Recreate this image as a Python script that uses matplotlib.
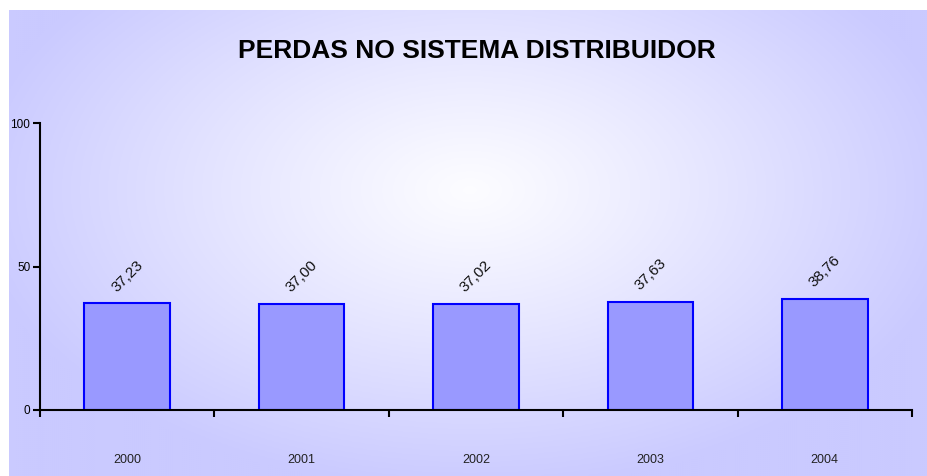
import numpy as np
import matplotlib.pyplot as plt

anos = ['2000', '2001', '2002', '2003', '2004']
perdas = [37.23, 37.00, 37.02, 37.63, 38.76]
rotulos = ['37,23', '37,00', '37,02', '37,63', '38,76']
y_ticks = [0, 50, 100]

plt.rcParams['font.family'] = ['Liberation Sans', 'DejaVu Sans']

fig = plt.figure(figsize=(9.28, 4.76), dpi=100)

# Fundo com gradiente radial (branco no centro, lilás nas bordas),
# com uma margem branca em cima e à esquerda
bg = fig.add_axes([9 / 928, 0, 919 / 928, 466 / 476], zorder=0)
xx, yy = np.meshgrid(np.linspace(9, 928, 460), np.linspace(10, 476, 233))
r = np.sqrt(((xx - 470) / 500) ** 2 + ((yy - 190) / 300) ** 2)
r = np.clip(r, 0, 1)
edge = np.array([202, 202, 255]) / 255
t = r[..., None] ** 1.1
img = (1 - t) * np.array([0.99, 0.99, 1.0]) + t * edge
bg.imshow(img, extent=[0, 1, 0, 1], aspect='auto', origin='upper')
bg.axis('off')

ax = fig.add_axes([40 / 928, 1 - 410 / 476, 872 / 928, 287 / 476], zorder=1)
ax.patch.set_alpha(0)

x = np.arange(len(anos))
ax.bar(x, perdas, width=0.49, color='#9999ff', edgecolor='#0000ff', linewidth=1.5)

for xi, v, txt in zip(x, perdas, rotulos):
    ax.text(xi, v + 9.5, txt, rotation=45, ha='center', va='center',
            fontsize=11, color='#111111', rotation_mode='anchor')

ax.set_xlim(-0.5, len(anos) - 0.5)
ax.set_ylim(0, 100)
ax.set_yticks(y_ticks)
ax.set_yticklabels([str(v) for v in y_ticks], fontsize=8.5)

ax.set_xticks(x)
ax.set_xticklabels(anos, fontsize=9, color='#222222')
ax.tick_params(axis='x', which='major', length=0, pad=32)
ax.set_xticks(np.arange(-0.5, len(anos)), minor=True)
ax.tick_params(axis='x', which='minor', length=5, width=1.5, direction='out')
ax.tick_params(axis='y', length=5, width=1.5, direction='out', pad=2)

for s in ['top', 'right']:
    ax.spines[s].set_visible(False)
for s in ['left', 'bottom']:
    ax.spines[s].set_linewidth(1.5)

fig.text(477 / 928, 1 - 51 / 476, 'PERDAS NO SISTEMA DISTRIBUIDOR',
         ha='center', va='center', fontsize=19, fontweight='bold')

fig.savefig('out.png', dpi=100)
